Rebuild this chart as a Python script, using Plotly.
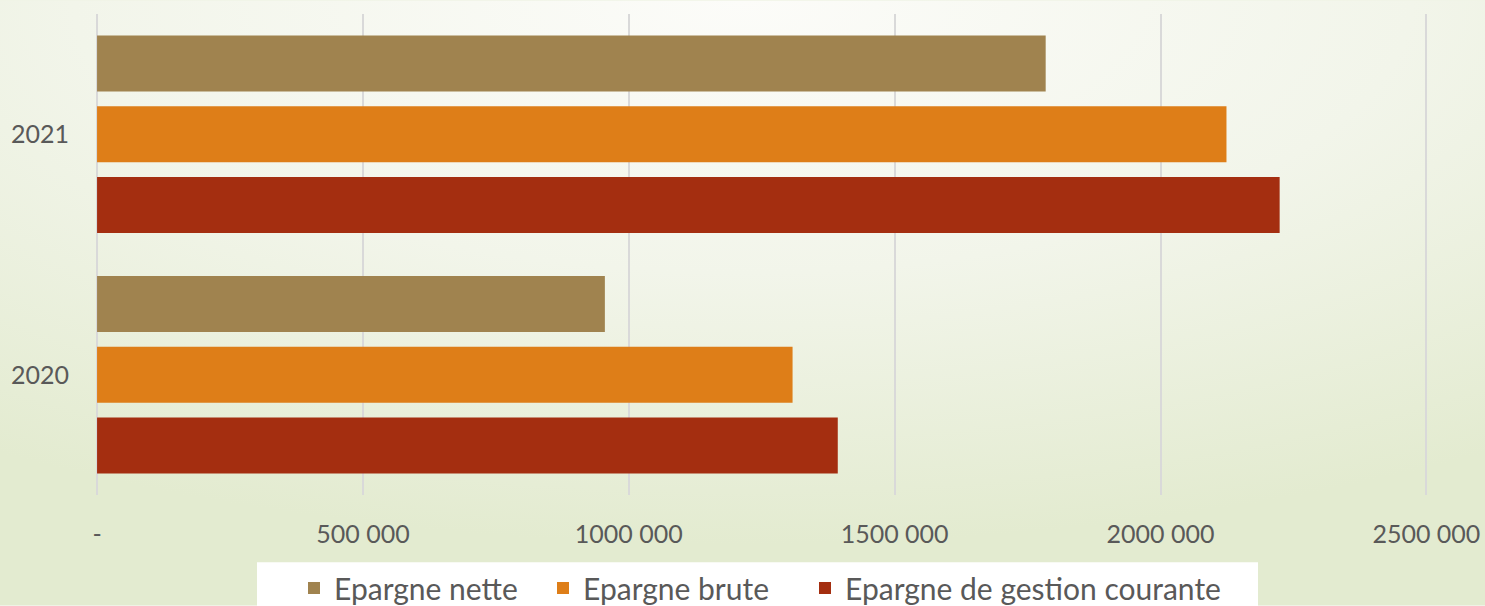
import base64
import plotly.graph_objects as go

categories = ["2020", "2021"]
series_names = ["Epargne nette", "Epargne brute", "Epargne de gestion courante"]
epargne_nette = [955000, 1784000]
epargne_brute = [1308000, 2124000]
epargne_gestion = [1393000, 2224000]
tick_values = [0, 500000, 1000000, 1500000, 2000000, 2500000]
tick_labels = ["-", "500 000", "1000 000", "1500 000", "2000 000", "2500 000"]

colors = {"Epargne nette": "#A0834F", "Epargne brute": "#DE7E18",
          "Epargne de gestion courante": "#A42E10"}
values = {"Epargne nette": epargne_nette, "Epargne brute": epargne_brute,
          "Epargne de gestion courante": epargne_gestion}
legend_ids = {"Epargne nette": "legend", "Epargne brute": "legend2",
              "Epargne de gestion courante": "legend3"}
legend_x = {"legend": 294, "legend2": 543, "legend3": 805}

W, H = 1485, 606
L, R, T, B = 96, 57, 13.5, 110.5
pw, ph = W - L - R, H - T - B

fig = go.Figure()
for name in reversed(series_names):
    fig.add_trace(go.Bar(
        y=categories, x=values[name], name=name, orientation="h",
        legend=legend_ids[name],
        marker=dict(color=colors[name], line=dict(width=0)),
    ))

svg = f'''<svg xmlns="http://www.w3.org/2000/svg" width="{W}" height="{H}" viewBox="0 0 {W} {H}" preserveAspectRatio="none">
<defs><radialGradient id="g" cx="0.5" cy="0.0" r="0.9" gradientUnits="objectBoundingBox">
<stop offset="0" stop-color="#FCFCF9"/><stop offset="0.5" stop-color="#F2F5EA"/><stop offset="1" stop-color="#E3EBD0"/>
</radialGradient></defs><rect width="{W}" height="{H}" fill="url(#g)"/></svg>'''
src = "data:image/svg+xml;base64," + base64.b64encode(svg.encode()).decode()

def legend_cfg(px):
    return dict(orientation="h", bgcolor="rgba(0,0,0,0)",
                xref="container", yref="container", x=px / W, xanchor="left",
                y=1 - 588 / H, yanchor="middle", itemwidth=30,
                font=dict(size=30, color="#595959"))

font_family = "Lato, 'Noto Sans', sans-serif"
fig.update_layout(
    width=W, height=H,
    margin=dict(l=L, r=R, t=T, b=B, pad=0, autoexpand=False),
    paper_bgcolor="#F0F4E6", plot_bgcolor="rgba(0,0,0,0)",
    barmode="group", bargap=0.116, bargroupgap=0.21,
    font=dict(family=font_family, size=25, color="#595959"),
    showlegend=True,
    legend=legend_cfg(legend_x["legend"]),
    legend2=legend_cfg(legend_x["legend2"]),
    legend3=legend_cfg(legend_x["legend3"]),
    xaxis=dict(range=[-2000, 2503000], tickvals=tick_values, ticktext=tick_labels,
               showgrid=True, gridcolor="#D9D9D9", gridwidth=2,
               zeroline=True, zerolinecolor="#D9D9D9", zerolinewidth=2,
               showline=False, ticks="", ticklabelstandoff=22, automargin=False),
    yaxis=dict(type="category", categoryorder="array", categoryarray=categories,
               range=[-0.5, 1.5], showgrid=False, zeroline=False, showline=False,
               ticks="", ticklabelstandoff=26, automargin=False),
    images=[dict(source=src, xref="paper", yref="paper", x=-L / pw, y=1 + T / ph,
                 sizex=W / pw, sizey=H / ph, sizing="stretch", layer="below",
                 xanchor="left", yanchor="top")],
    shapes=[dict(type="rect", xref="paper", yref="paper",
                 x0=(257 - L) / pw, x1=(1258 - L) / pw,
                 y0=(ph + T - 563) / ph, y1=(ph + T - 620) / ph,
                 fillcolor="white", line=dict(width=0), layer="above")],
)
fig.write_html("out.html", config={"displayModeBar": False},
               post_script="document.body.style.margin='0';document.body.style.overflow='hidden';")
